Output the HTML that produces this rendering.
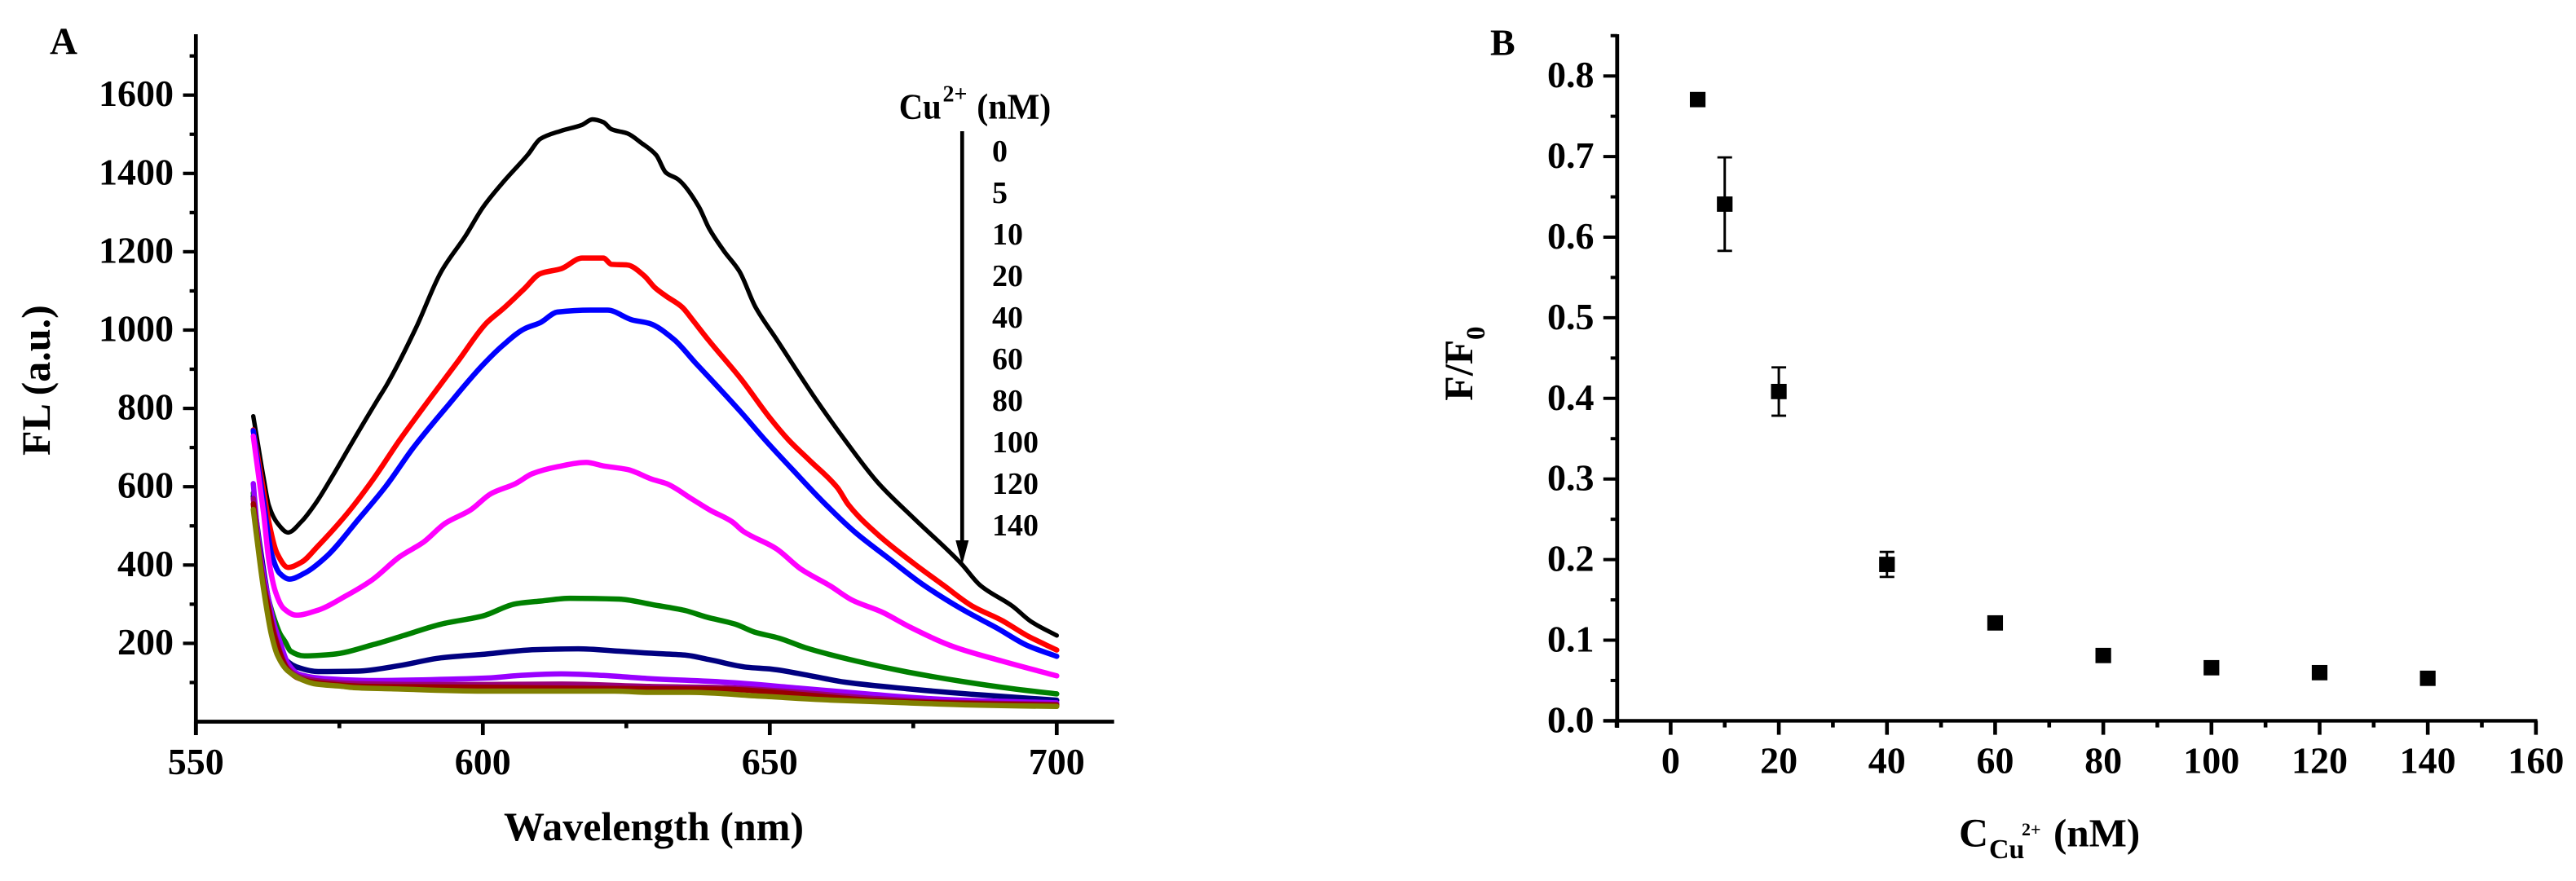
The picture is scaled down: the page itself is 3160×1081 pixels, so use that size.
<!DOCTYPE html>
<html lang="en">
<head>
<meta charset="utf-8">
<title>Cu2+ fluorescence quenching</title>
<style>
html,body{margin:0;padding:0;background:#fff;width:3160px;height:1081px;overflow:hidden}
svg{display:block}
text{font-family:"Liberation Serif",serif;font-weight:bold;fill:#000}
</style>
</head>
<body>
<svg id="figure" xmlns="http://www.w3.org/2000/svg" width="3160" height="1081" viewBox="0 0 3160 1081">
  <rect x="0" y="0" width="3160" height="1081" fill="#fff"/>
  <g id="panelA">
    <text x="61" y="66" font-size="47">A</text>
    <text x="61" y="559" font-size="50" transform="rotate(-90 61 559)">FL (a.u.)</text>
    <text x="618" y="1031" font-size="50">Wavelength (nm)</text>
    <g id="axesA"></g>
    <g id="curvesA"></g>
    <g>
      <text x="1102.7" y="145.7" font-size="44" textLength="52" lengthAdjust="spacingAndGlyphs">Cu</text>
      <text x="1156.5" y="124.5" font-size="28">2+</text>
      <text x="1198.3" y="145.7" font-size="44" textLength="91" lengthAdjust="spacingAndGlyphs">(nM)</text>
      <line x1="1180.3" y1="161" x2="1180.3" y2="665" stroke="#000" stroke-width="4.7"/>
      <polygon points="1172.3,663 1188.3,663 1180.3,693" fill="#000"/>
      <g id="legendA"></g>
    </g>
  </g>
  <g id="panelB">
    <text x="1828" y="67.5" font-size="46">B</text>
    <text x="1806" y="491.7" font-size="50" transform="rotate(-90 1806 491.7)">F/F</text>
    <text x="1821" y="417" font-size="33" transform="rotate(-90 1821 417)">0</text>
    <text x="2403" y="1038.5" font-size="50">C</text>
    <text x="2440" y="1053" font-size="34">Cu</text>
    <text x="2480" y="1025" font-size="22">2+</text>
    <text x="2519" y="1038.5" font-size="49">(nM)</text>
    <g id="axesB"></g>
    <g id="pointsB"></g>
  </g>
</svg>
<script>
// Panel A data
const xTicksA = [550, 600, 650, 700];
const xMinorA = [575, 625, 675];
const yTicksA = [200, 400, 600, 800, 1000, 1200, 1400, 1600];
const yMinorA = [100, 300, 500, 700, 900, 1100, 1300, 1500, 1700];
const concentrations = ["0", "5", "10", "20", "40", "60", "80", "100", "120", "140"];
const seriesColors = ["#000000", "#ff0000", "#0000ff", "#ff00ff", "#008000", "#000080", "#9900ff", "#99007a", "#990000", "#808000"];

const wl0 = [560,560.85,561.8,562.7,564.2,566.05,568.4,570.8,573.6,576.9,581.7,583.3,588.3,592.7,597,600,603.5,607.9,610,613.7,617.3,619.1,621,622.4,625.2,627.6,630.2,631.9,634,637.6,639.4,642,644.7,647.5,651.2,657.9,663.1,668.8,675.2,683.4,686.6,692.3,695.5,700];
const fl0 = [780,705,622,553,507,483,511,556,622,705,823,861,1004,1148,1241,1313,1377,1449,1488,1509,1524,1538,1531,1513,1502,1478,1447,1402,1385,1316,1260,1202,1150,1059,976,826,719,611,518,403,349,295,256,220];

const wl1 = [560,560.85,561.8,562.7,564.2,566.05,568.4,571.3,576,580.7,585.5,590.7,595.6,600.7,603.5,607.2,610,613.7,617.3,621,622.4,625.2,628.1,630,631.9,634.7,636.6,639.4,645,650,653.3,656.8,661.8,663.7,668.8,675.2,680.2,685.3,690.4,694.8,700];
const fl1 = [745,670,590,511,428,394,407,449,525,615,719,823,919,1019,1054,1105,1144,1157,1184,1184,1168,1166,1139,1108,1087,1059,1025,973,875,776,719,669,597,554,478,403,349,295,259,220,183];

const wl2 = [560,560.85,561.8,563.2,564.6,566.3,568.9,572.7,578.4,583.1,587.8,594,600,603.5,607.2,610,613,618.8,621.7,626,629,633.3,637,640,645,649.2,654.2,659.3,665,670.7,676.4,683.4,689.7,694.8,700];
const fl2 = [743,655,560,428,379,364,379,421,518,601,698,809,911,961,1003,1019,1046,1051,1051,1026,1017,976,917,870,790,719,640,561,482,417,353,288,238,195,167];

const wl3 = [560,560.85,561.8,562.7,563.9,565.3,567.5,571.3,576,580.7,585.5,589.7,593.5,597.8,601.4,605.7,608.6,613,618,621,625.2,629.5,632,636.5,639.6,643.4,645.4,651.1,655.5,660.6,664.4,669.4,674.5,682.1,690.4,700];
const fl3 = [729,636,532,414,330,289,272,285,320,362,421,459,507,540,582,608,633,651,662,653,644,619,608,568,540,511,486,442,389,346,310,281,241,191,155,117];

const wl4 = [560,560.85,561.8,562.7,563.7,564.6,565.6,566.5,568.9,573.8,581,586.2,592.7,600,605.7,610.1,615.2,623.8,629.5,635.2,639,644,647.3,651.7,656.2,665,673.9,683.4,692.9,700];
const fl4 = [584,470,375,310,261,226,203,180,168,172,197,220,249,270,301,308,315,313,299,284,267,249,229,213,189,155,127,103,83,71];

const wl5 = [560,561,562.2,563.5,565,567.5,571.3,578.2,585.4,592.7,600,609.3,616.6,623.8,628.9,635.2,639.6,646,650.4,656.8,663.1,673.9,685.3,700];
const fl5 = [575,465,350,245,170,140,128,129,143,163,172,184,186,180,175,170,158,139,134,118,101,84,70,55];

const wl6 = [560,560.85,561.8,562.5,563.7,564.6,566,568,572.4,581,595.5,601.4,606.5,613.7,621,628.9,642.1,654.9,667.6,680.2,700];
const fl6 = [608,470,375,324,245,206,150,121,110,105,109,112,118,122,118,110,101,86,70,57,48];

const wl7 = [560,560.85,561.8,562.5,563.7,566,568,572,578,590,600,613.7,629,642,655,667.6,680,700];
const fl7 = [570,455,355,305,225,137,115,103,97,95,95,96,90,87,75,60,50,44];

const wl8 = [560,560.85,561.8,562.5,563.7,566,568,572,580,590,600,613.7,629,642,655,667.6,680,700];
const fl8 = [556,448,348,300,218,133,110,98,90,89,88,86,84,83,70,55,48,42];

const wl9 = [560,560.85,561.8,563.2,564.2,566,569.4,571,575,577.5,584,600,613.7,623,629,636,648.6,661,673.9,686.6,700];
const fl9 = [542,442,338,220,170,130,102,96,91,87,84,78,78,78,75,75,65,55,48,42,39];

const curveWavelengths = [wl0, wl1, wl2, wl3, wl4, wl5, wl6, wl7, wl8, wl9];
const curveValues = [fl0, fl1, fl2, fl3, fl4, fl5, fl6, fl7, fl8, fl9];

// Panel B data
const xTicksB = [0, 20, 40, 60, 80, 100, 120, 140, 160];
const xMinorB = [-10, 10, 30, 50, 70, 90, 110, 130, 150];
const yTicksB = [0, 0.1, 0.2, 0.3, 0.4, 0.5, 0.6, 0.7, 0.8];
const yMinorB = [0.05, 0.15, 0.25, 0.35, 0.45, 0.55, 0.65, 0.75, 0.85];
const cuConc = [5, 10, 20, 40, 60, 80, 100, 120, 140];
const ratio = [0.7707, 0.641, 0.4085, 0.194, 0.1214, 0.081, 0.0658, 0.0597, 0.0527];
const ratioErr = [0.002, 0.058, 0.03, 0.0155, 0.002, 0.002, 0.004, 0.002, 0.003];

const SVG_NS = "http://www.w3.org/2000/svg";
function xA(w) { return 240.3 + (w - 550) * 7.04; }
function yA(v) { return 885.5 - v * 0.4805; }
function xB(c) { return 2049.4 + c * 6.634; }
function yB(v) { return 884.4 - v * 989; }

function mk(tag, attrs, parent, text) {
  const el = document.createElementNS(SVG_NS, tag);
  for (const k in attrs) el.setAttribute(k, attrs[k]);
  if (text !== undefined) el.textContent = text;
  parent.appendChild(el);
  return el;
}
function line(parent, x1, y1, x2, y2, w) {
  return mk("line", { x1: x1, y1: y1, x2: x2, y2: y2, stroke: "#000", "stroke-width": w }, parent);
}
// Monotone-in-x cubic path through the scaled points
function smoothPath(xs, ys) {
  const n = xs.length;
  const s = [];
  for (let i = 0; i < n - 1; i++) s.push((ys[i + 1] - ys[i]) / (xs[i + 1] - xs[i]));
  const m = [s[0]];
  for (let i = 1; i < n - 1; i++) {
    if (s[i - 1] * s[i] <= 0) { m.push(0); continue; }
    const h0 = xs[i] - xs[i - 1], h1 = xs[i + 1] - xs[i];
    m.push((h0 + h1) * 3 / ((2 * h1 + h0) / s[i - 1] + (h1 + 2 * h0) / s[i]));
  }
  m.push(s[n - 2]);
  let d = "M" + xs[0].toFixed(1) + " " + ys[0].toFixed(1);
  for (let i = 0; i < n - 1; i++) {
    const h = (xs[i + 1] - xs[i]) / 3;
    d += "C" + (xs[i] + h).toFixed(1) + " " + (ys[i] + m[i] * h).toFixed(1) + " " +
         (xs[i + 1] - h).toFixed(1) + " " + (ys[i + 1] - m[i + 1] * h).toFixed(1) + " " +
         xs[i + 1].toFixed(1) + " " + ys[i + 1].toFixed(1);
  }
  return d;
}

// Panel A axes
const axesA = document.getElementById("axesA");
const axisYA = line(axesA, 240.3, 42, 240.3, 902, 4.7);


const axisXA = line(axesA, 238, 885.5, xA(710), 885.5, 4.7);


yTicksA.forEach(function (v) {
  const t = line(axesA, 224.5, yA(v), 240, yA(v), 4.2);
  
  
  const l = mk("text", { x: 213, y: yA(v) + 13.5, "font-size": 46, "text-anchor": "end" }, axesA, String(v));
  
  
});
yMinorA.forEach(function (v) {
  const t = line(axesA, 232.6, yA(v), 240, yA(v), 4.2);
  
  
});
xTicksA.forEach(function (w) {
  const t = line(axesA, xA(w), 885.5, xA(w), 902, 4.7);
  
  
  const l = mk("text", { x: xA(w), y: 950, "font-size": 46, "text-anchor": "middle" }, axesA, String(w));
  
  
});
xMinorA.forEach(function (w) {
  const t = line(axesA, xA(w), 885.5, xA(w), 893.5, 4.7);
  
  
});

// Panel A curves
const curvesA = document.getElementById("curvesA");
curveValues.forEach(function (vals, i) {
  const px = curveWavelengths[i].map(xA);
  const py = vals.map(yA);
  const p = mk("path", { d: smoothPath(px, py), fill: "none", stroke: seriesColors[i], "stroke-width": i === 0 ? 5.4 : 6.5, "stroke-linejoin": "round", "stroke-linecap": "round" }, curvesA);
  
  
});

// Panel A legend values
const legendA = document.getElementById("legendA");
concentrations.forEach(function (c, i) {
  const t = mk("text", { x: 1217, y: 198 + i * 51, "font-size": 38 }, legendA, c);
  
  
});

// Panel B axes
const axesB = document.getElementById("axesB");
const axisYB = line(axesB, 1983.8, 42, 1983.8, 893, 4.8);


const axisXB = line(axesB, 1966.8, 884.4, 3112.6, 884.4, 4.4);


yTicksB.forEach(function (v) {
  const t = line(axesB, 1966.8, yB(v), 1984, yB(v), 4);
  
  
  const l = mk("text", { x: 1955.5, y: yB(v) + 14, "font-size": 46, "text-anchor": "end" }, axesB, v.toFixed(1));
  
  
});
yMinorB.forEach(function (v) {
  const t = line(axesB, 1975.7, yB(v), 1984, yB(v), 4);
  
  
});
xTicksB.forEach(function (c) {
  const t = line(axesB, xB(c), 884.4, xB(c), 901.6, 4.6);
  
  
  const l = mk("text", { x: xB(c), y: 948.3, "font-size": 46, "text-anchor": "middle" }, axesB, String(c));
  
  
});
xMinorB.forEach(function (c) {
  const t = line(axesB, xB(c), 884.4, xB(c), 892.6, 4.6);
  
  
});

// Panel B points
const pointsB = document.getElementById("pointsB");
cuConc.forEach(function (c, i) {
  const cx = xB(c), cy = yB(ratio[i]);
  const top = yB(ratio[i] + ratioErr[i]), bot = yB(ratio[i] - ratioErr[i]);
  const bar = line(pointsB, cx, top, cx, bot, 3);
  
  
  const capTop = line(pointsB, cx - 9, top, cx + 9, top, 2.8);
  
  
  const capBot = line(pointsB, cx - 9, bot, cx + 9, bot, 2.8);
  
  
  const m = mk("rect", { x: cx - 9.6, y: cy - 9.4, width: 19.2, height: 18.8, fill: "#000" }, pointsB);
  
  
});
</script>
</body>
</html>
